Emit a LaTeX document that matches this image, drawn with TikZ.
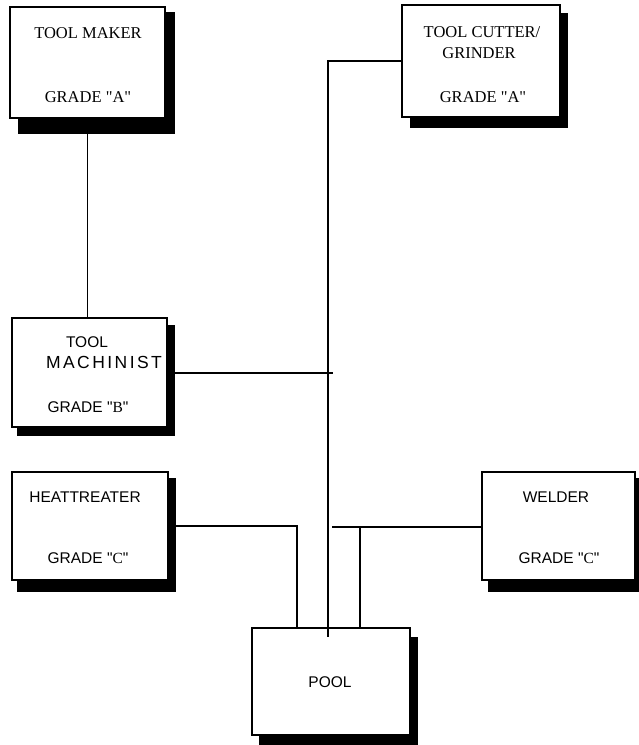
\documentclass[tikz,border=0pt]{standalone}
\usepackage{fontspec}
\newfontfamily\tnr{Liberation Serif}
\newfontfamily\arial{Liberation Sans}
\newfontfamily\arialsp[LetterSpace=14]{Liberation Sans}
\usetikzlibrary{backgrounds}
\tikzset{
  boxshape/.style={draw=black, fill=white, line width=2.4pt, inner sep=0pt, outer sep=0pt},
  serifbox/.style={boxshape, line width=1.8pt},
  seriftext/.style={inner sep=0pt, font=\tnr\fontsize{16.5}{19}\selectfont},
  sanstext/.style={inner sep=0pt, font=\arial\fontsize{15.5}{18}\selectfont},
  wire/.style={draw=black, line width=2.6pt},
  thinwire/.style={draw=black, line width=1.6pt},
}
\newcommand{\boxshadow}[3]{%
  \begin{scope}[on background layer]
    \fill[black] ([shift={#2}]#1.north west) rectangle ([shift={#3}]#1.south east);
  \end{scope}}
\begin{document}
\begin{tikzpicture}[x=1pt, y=-1pt]
\useasboundingbox (0,0) rectangle (638,745);
\begin{scope}[on background layer]
\fill[white] (0,0) rectangle (638,745);
\end{scope}

% boxes
\node[serifbox, minimum width=155pt, minimum height=111pt] (maker) at (87.5,62.5) {};
\node[serifbox, minimum width=158pt, minimum height=112pt] (cutter) at (481,61) {};
\node[boxshape, minimum width=155pt, minimum height=109pt] (mach) at (89.5,372.5) {};
\node[boxshape, minimum width=156pt, minimum height=108pt] (heat) at (90,526) {};
\node[boxshape, minimum width=153pt, minimum height=108pt] (weld) at (558.5,526) {};
\node[boxshape, minimum width=158pt, minimum height=107pt] (pool) at (331,681.5) {};

% shadows
\boxshadow{maker}{(8,5)}{(10,16)}
\boxshadow{cutter}{(8,8)}{(8,11)}
\boxshadow{mach}{(5,7)}{(8,9)}
\boxshadow{heat}{(5,6)}{(8,12)}
\boxshadow{weld}{(6,6)}{(6,12)}
\boxshadow{pool}{(7,9)}{(8,10)}

% texts
\node[seriftext] (makert) at (88,33) {TOOL MAKER};
\node[seriftext] (makerg) at (88,97) {GRADE "A"};
\node[seriftext] (cuttert) at (482,32) {TOOL CUTTER/};
\node[seriftext] (cutterg) at (479,53) {GRINDER};
\node[seriftext] (cuttergr) at (483,97) {GRADE "A"};
\node[sanstext] (macht) at (87,342) {TOOL};
\node[inner sep=0pt, font=\arialsp\fontsize{17.5}{20}\selectfont] (machm) at (104,362) {MACHINIST};
\node[sanstext] (machg) at (88,407) {GRADE "{\tnr B}"};
\node[sanstext] (heatt) at (85,497) {HEATTREATER};
\node[sanstext] (heatg) at (88,558) {GRADE "{\tnr C}"};
\node[sanstext] (weldt) at (556,497) {WELDER};
\node[sanstext] (weldg) at (559,558) {GRADE "{\tnr C}"};
\node[sanstext] (poolt) at (330,682) {POOL};

% connector end points
\coordinate (pooltap) at (328,637);
\coordinate (machend) at (333,373);
\coordinate (poolL) at (297,628);
\coordinate (weldstart) at (332,527);
\coordinate (weldtap) at (360,527);
\coordinate (poolR) at (360,628);

% connectors
\draw[thinwire] (maker.south) -- (maker.south |- mach.north);
\draw[wire] (cutter.west) -| (pooltap);
\draw[wire] (mach.east |- machend) -- (machend);
\draw[wire] (heat.east) -| (poolL);
\draw[wire] (weldstart) -- (weld.west |- weldstart);
\draw[wire] (weldtap) -- (poolR);
\end{tikzpicture}
\end{document}
